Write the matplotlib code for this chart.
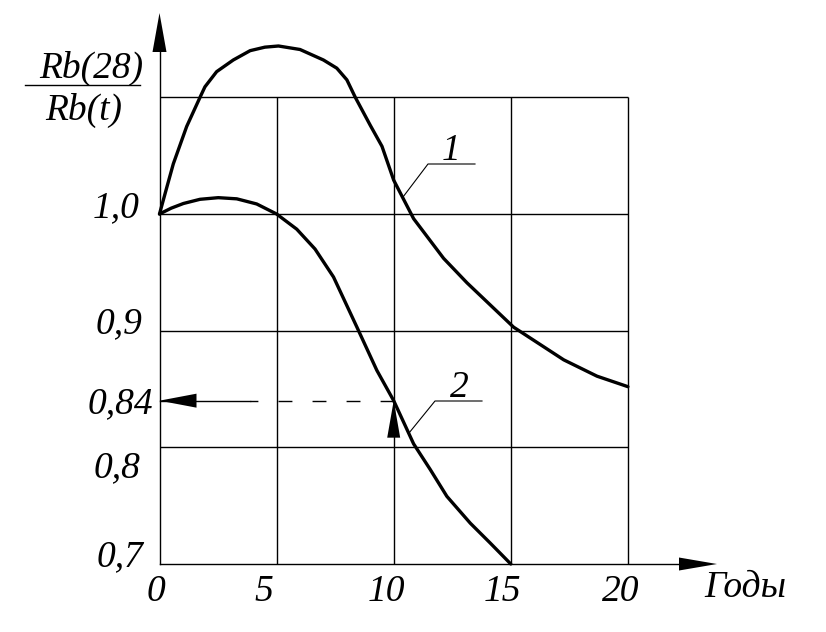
import matplotlib
matplotlib.use('Agg')
import matplotlib.pyplot as plt
from matplotlib.patches import Polygon

plt.rcParams['font.family'] = ['Liberation Serif', 'DejaVu Serif']

# кривая 1
t1 = [0, 0.3, 0.59, 1.16, 1.73, 1.94, 2.44, 3.15, 3.87, 4.5, 5.08, 6.0, 7.0,
      7.57, 8.0, 8.36, 9.0, 9.5, 10.0, 10.85, 12.13, 13.13, 15.12, 17.26,
      18.68, 20.0]
v1 = [1.0, 1.022, 1.043, 1.075, 1.100, 1.109, 1.122, 1.132, 1.140, 1.143,
      1.144, 1.141, 1.132, 1.125, 1.115, 1.100, 1.076, 1.058, 1.029, 0.996,
      0.962, 0.941, 0.903, 0.875, 0.861, 0.852]

# кривая 2
t2 = [0, 0.5, 1.02, 1.73, 2.51, 3.3, 4.15, 5.0, 5.86, 6.64, 7.43, 8.43, 9.28,
      10.0, 10.85, 11.56, 12.27, 13.27, 14.12, 15.0]
v2 = [1.0, 1.005, 1.009, 1.0126, 1.014, 1.013, 1.0086, 1.0, 0.987, 0.970,
      0.946, 0.903, 0.866, 0.840, 0.803, 0.781, 0.758, 0.735, 0.718, 0.700]

# сетка и подписи
x_ticks = [0, 5, 10, 15, 20]
x_labels = ['0', '5', '10', '15', '20']
y_grid = [0.7, 0.8, 0.9, 1.0, 1.1]
y_ticks = [1.0, 0.9, 0.84, 0.8, 0.7]
y_labels = ['1,0', '0,9', '0,84', '0,8', '0,7']

# отсчёт по кривой 2
t_read, v_read = 10, 0.84

# пересчёт пикселей в координаты
X0, SX = 159.5, 23.42
Y0, SY = 214.0, 1166.7


def px_x(px):
    return (px - X0) / SX


def px_y(py):
    return 1 + (Y0 - py) / SY


fig = plt.figure(figsize=(8.26, 6.32), dpi=100)
ax = fig.add_axes([0, 0, 1, 1])
ax.set_xlim(px_x(0), px_x(826))
ax.set_ylim(px_y(632), px_y(0))
ax.axis('off')

# сетка
ax.vlines(x_ticks[1:], y_grid[0], y_grid[-1], color='black', lw=1.0)
ax.hlines(y_grid[1:], 0, 20, color='black', lw=1.0)
# оси
ax.plot([0, 0], [0.7, px_y(30)], color='black', lw=1.0)
ax.plot([0, px_x(700)], [0.7, 0.7], color='black', lw=1.0)


def head(tip_px, direction, length=38, half=7):
    tx, ty = tip_px
    if direction == 'up':
        pts = [(tx, ty), (tx - half, ty + length), (tx + half, ty + length)]
    elif direction == 'right':
        pts = [(tx, ty), (tx - length, ty - half), (tx - length, ty + half)]
    else:
        pts = [(tx, ty), (tx + length, ty - half), (tx + length, ty + half)]
    pts = [(px_x(a), px_y(b)) for a, b in pts]
    ax.add_patch(Polygon(pts, closed=True, color='black', lw=0))


head((X0, 13), 'up', 39, 7)
head((717, Y0 + 0.3 * SY), 'right', 38, 6.5)

# кривые
for t, v in [(t1, v1), (t2, v2)]:
    ax.plot(t, v, color='black', lw=2.4, solid_capstyle='round',
            solid_joinstyle='round')

# линия отсчёта 0,84
x_break = px_x(250)
ax.plot([0, x_break], [v_read, v_read], color='black', lw=1.0)
ax.plot([t_read, x_break], [v_read, v_read], color='black', lw=1.0,
        linestyle=(0, (10, 14.5)))
head((X0, Y0 + (1 - v_read) * SY), 'left', 37, 7)
head((X0 + t_read * SX, Y0 + (1 - v_read) * SY), 'up', 37, 6.5)

# выноски
ax.plot([px_x(403), px_x(428), px_x(475)], [px_y(197), px_y(164), px_y(164)],
        color='black', lw=0.8)
ax.plot([px_x(409), px_x(435), px_x(482)], [px_y(433), px_y(401), px_y(401)],
        color='black', lw=0.8)

fs = 27
ax.text(px_x(451), px_y(160), '1', fontsize=fs, style='italic',
        ha='center', va='baseline')
ax.text(px_x(459), px_y(397), '2', fontsize=fs, style='italic',
        ha='center', va='baseline')

# подписи оси y
y_pos = [(140, 217), (142, 333), (153, 413), (140, 477), (143, 566)]
for lab, (rx, by) in zip(y_labels, y_pos):
    ax.text(px_x(rx), px_y(by), lab, fontsize=fs, style='italic',
            ha='right', va='baseline')

# подписи оси x
x_pos = [156, 264, 386, 502, 621]
for lab, cx in zip(x_labels, x_pos):
    ax.text(px_x(cx), px_y(601), lab, fontsize=fs, style='italic',
            ha='center', va='baseline')
ax.text(px_x(745), px_y(597), 'Годы', fontsize=fs, style='italic',
        ha='center', va='baseline')

# дробь Rb(28)/Rb(t)
ax.text(px_x(91), px_y(78), 'Rb(28)', fontsize=fs, style='italic',
        ha='center', va='baseline')
ax.plot([px_x(25), px_x(140)], [px_y(85), px_y(85)], color='black', lw=1.0)
ax.text(px_x(84), px_y(120), 'Rb(t)', fontsize=fs, style='italic',
        ha='center', va='baseline')

fig.savefig('out.png', dpi=100)
